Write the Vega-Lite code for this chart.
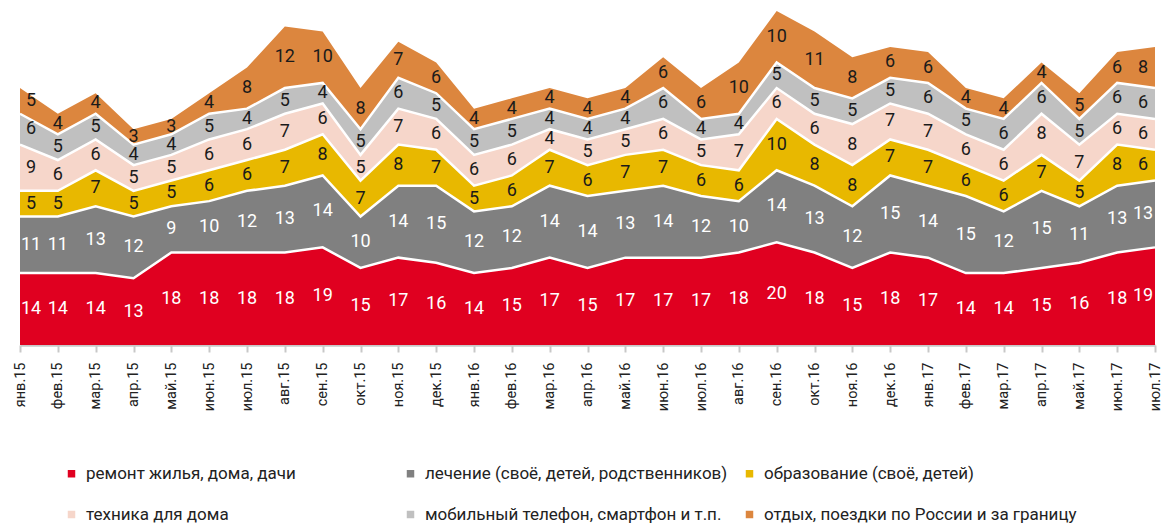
{
  "$schema": "https://vega.github.io/schema/vega-lite/v6.json",
  "autosize": {"type": "none"},
  "padding": {"left": 20, "top": 11, "right": 7, "bottom": 178},
  "width": 1135,
  "height": 334,
  "config": {"view": {"stroke": null}},
  "data": {"values": [
    {"m": "янв.15", "a": 14, "b": 11, "c": 5, "d": 9, "e": 6, "f": 5},
    {"m": "фев.15", "a": 14, "b": 11, "c": 5, "d": 6, "e": 5, "f": 4},
    {"m": "мар.15", "a": 14, "b": 13, "c": 7, "d": 6, "e": 5, "f": 4},
    {"m": "апр.15", "a": 13, "b": 12, "c": 5, "d": 5, "e": 4, "f": 3},
    {"m": "май.15", "a": 18, "b": 9, "c": 5, "d": 5, "e": 4, "f": 3},
    {"m": "июн.15", "a": 18, "b": 10, "c": 6, "d": 6, "e": 5, "f": 4},
    {"m": "июл.15", "a": 18, "b": 12, "c": 6, "d": 6, "e": 4, "f": 8},
    {"m": "авг.15", "a": 18, "b": 13, "c": 7, "d": 7, "e": 5, "f": 12},
    {"m": "сен.15", "a": 19, "b": 14, "c": 8, "d": 6, "e": 4, "f": 10},
    {"m": "окт.15", "a": 15, "b": 10, "c": 7, "d": 5, "e": 5, "f": 8},
    {"m": "ноя.15", "a": 17, "b": 14, "c": 8, "d": 7, "e": 6, "f": 7},
    {"m": "дек.15", "a": 16, "b": 15, "c": 7, "d": 6, "e": 5, "f": 6},
    {"m": "янв.16", "a": 14, "b": 12, "c": 5, "d": 6, "e": 5, "f": 4},
    {"m": "фев.16", "a": 15, "b": 12, "c": 6, "d": 6, "e": 5, "f": 4},
    {"m": "мар.16", "a": 17, "b": 14, "c": 7, "d": 4, "e": 4, "f": 4},
    {"m": "апр.16", "a": 15, "b": 14, "c": 6, "d": 5, "e": 4, "f": 4},
    {"m": "май.16", "a": 17, "b": 13, "c": 7, "d": 5, "e": 4, "f": 4},
    {"m": "июн.16", "a": 17, "b": 14, "c": 7, "d": 6, "e": 6, "f": 6},
    {"m": "июл.16", "a": 17, "b": 12, "c": 6, "d": 5, "e": 4, "f": 6},
    {"m": "авг.16", "a": 18, "b": 10, "c": 6, "d": 7, "e": 4, "f": 10},
    {"m": "сен.16", "a": 20, "b": 14, "c": 10, "d": 6, "e": 5, "f": 10},
    {"m": "окт.16", "a": 18, "b": 13, "c": 8, "d": 6, "e": 5, "f": 11},
    {"m": "ноя.16", "a": 15, "b": 12, "c": 8, "d": 8, "e": 5, "f": 8},
    {"m": "дек.16", "a": 18, "b": 15, "c": 7, "d": 7, "e": 5, "f": 6},
    {"m": "янв.17", "a": 17, "b": 14, "c": 7, "d": 7, "e": 6, "f": 6},
    {"m": "фев.17", "a": 14, "b": 15, "c": 6, "d": 6, "e": 5, "f": 4},
    {"m": "мар.17", "a": 14, "b": 12, "c": 6, "d": 6, "e": 6, "f": 4},
    {"m": "апр.17", "a": 15, "b": 15, "c": 7, "d": 8, "e": 6, "f": 4},
    {"m": "май.17", "a": 16, "b": 11, "c": 5, "d": 7, "e": 5, "f": 5},
    {"m": "июн.17", "a": 18, "b": 13, "c": 8, "d": 6, "e": 6, "f": 6},
    {"m": "июл.17", "a": 19, "b": 13, "c": 6, "d": 6, "e": 6, "f": 8}
  ]},
  "transform": [
    {"fold": ["a", "b", "c", "d", "e", "f"], "as": ["cat", "val"]},
    {"stack": "val", "groupby": ["m"], "sort": [{"field": "cat", "order": "ascending"}], "as": ["y0", "y1"]},
    {"calculate": "(datum.y0 + datum.y1) / 2", "as": "mid"}
  ],
  "layer": [
    {
      "mark": {"type": "area", "opacity": 1},
      "encoding": {
        "x": {"field": "m", "type": "ordinal", "sort": null, "scale": {"type": "point", "padding": 0},
          "axis": {"title": null, "labelAngle": -90, "labelAlign": "right", "labelBaseline": "middle",
            "labelPadding": 10, "labelFont": "Roboto", "labelFontSize": 14.5, "labelColor": "#222222",
            "domainColor": "#c8c8c8", "domainWidth": 2.5, "tickColor": "#c8c8c8", "tickWidth": 2, "tickSize": 7, "grid": false}},
        "y": {"field": "y1", "type": "quantitative", "scale": {"domain": [0, 65], "nice": false, "zero": true}, "axis": null},
        "y2": {"field": "y0"},
        "color": {"field": "cat", "type": "nominal",
          "scale": {"domain": ["a", "b", "c", "d", "e", "f"], "range": ["#e00020", "#808080", "#e8b800", "#f6d6ca", "#c0c0c0", "#dc863e"]},
          "legend": {"title": null, "orient": "none", "legendX": 43, "legendY": 454, "direction": "horizontal", "columns": 3, "gridAlign": "all",
            "symbolType": "square", "symbolSize": 56, "symbolStrokeWidth": 0, "labelOffset": 6,
            "labelFont": "Roboto", "labelFontSize": 17, "labelColor": "#222222", "labelLimit": 400,
            "rowPadding": 23, "columnPadding": 3,
            "labelExpr": "{'a':'ремонт жилья, дома, дачи','b':'лечение (своё, детей, родственников)','c':'образование (своё, детей)','d':'техника для дома','e':'мобильный телефон, смартфон и т.п.','f':'отдых, поездки по России и за границу'}[datum.value]"}}
      }
    },
    {
      "transform": [{"filter": "datum.cat != 'f'"}],
      "mark": {"type": "line", "color": "white", "strokeWidth": 2.5},
      "encoding": {
        "x": {"field": "m", "type": "ordinal", "sort": null},
        "y": {"field": "y1", "type": "quantitative"},
        "detail": {"field": "cat"}
      }
    },
    {
      "transform": [{"filter": "datum.m != 'янв.15' && datum.m != 'июл.17'"}],
      "mark": {"type": "text", "font": "Roboto", "fontSize": 18, "align": "center", "baseline": "middle"},
      "encoding": {
        "x": {"field": "m", "type": "ordinal", "sort": null},
        "y": {"field": "mid", "type": "quantitative"},
        "text": {"field": "val", "type": "quantitative"},
        "color": {"condition": {"test": "datum.cat == 'a' || datum.cat == 'b'", "value": "#ffffff"}, "value": "#1a1a1a"}
      }
    },
    {
      "transform": [{"filter": "datum.m == 'янв.15'"}],
      "mark": {"type": "text", "font": "Roboto", "fontSize": 18, "align": "center", "baseline": "middle", "dx": 11},
      "encoding": {
        "x": {"field": "m", "type": "ordinal", "sort": null},
        "y": {"field": "mid", "type": "quantitative"},
        "text": {"field": "val", "type": "quantitative"},
        "color": {"condition": {"test": "datum.cat == 'a' || datum.cat == 'b'", "value": "#ffffff"}, "value": "#1a1a1a"}
      }
    },
    {
      "transform": [{"filter": "datum.m == 'июл.17'"}],
      "mark": {"type": "text", "font": "Roboto", "fontSize": 18, "align": "center", "baseline": "middle", "dx": -12},
      "encoding": {
        "x": {"field": "m", "type": "ordinal", "sort": null},
        "y": {"field": "mid", "type": "quantitative"},
        "text": {"field": "val", "type": "quantitative"},
        "color": {"condition": {"test": "datum.cat == 'a' || datum.cat == 'b'", "value": "#ffffff"}, "value": "#1a1a1a"}
      }
    }
  ]
}
